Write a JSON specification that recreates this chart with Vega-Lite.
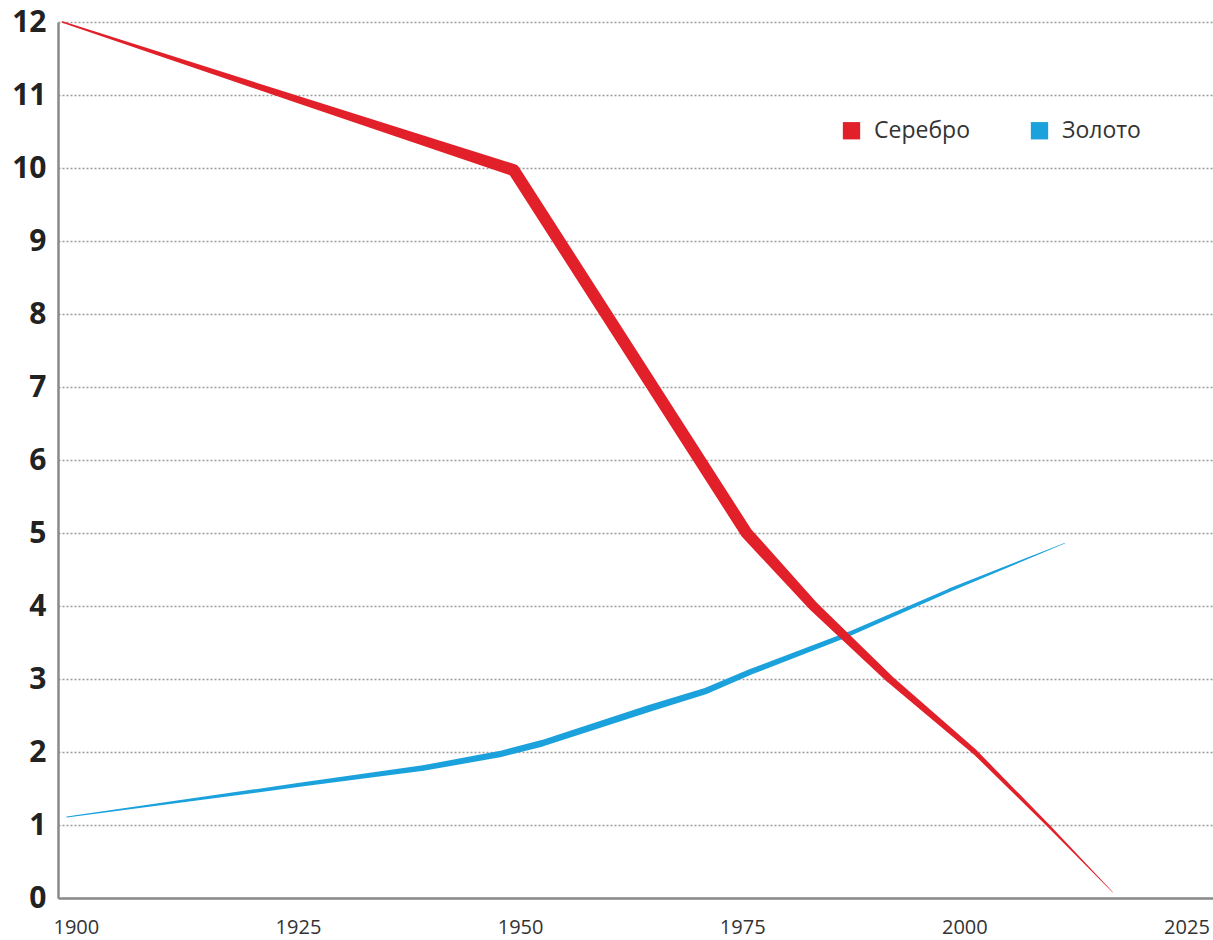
{
  "$schema": "https://vega.github.io/schema/vega-lite/v6.json",
  "width": 1155,
  "height": 876,
  "autosize": {"type": "none"},
  "padding": {"left": 58, "top": 22, "right": 0, "bottom": 42},
  "background": "white",
  "config": {
    "view": {"stroke": null},
    "font": "Open Sans"
  },
  "datasets": {
    "silver": [
      {"series": "Серебро", "year": 1900.5, "value": 12.0},
      {"series": "Серебро", "year": 1927.2, "value": 10.93},
      {"series": "Серебро", "year": 1951.3, "value": 9.97},
      {"series": "Серебро", "year": 1977.5, "value": 5.0},
      {"series": "Серебро", "year": 1985.0, "value": 4.0},
      {"series": "Серебро", "year": 1993.6, "value": 3.0},
      {"series": "Серебро", "year": 2003.2, "value": 2.0},
      {"series": "Серебро", "year": 2011.4, "value": 1.0},
      {"series": "Серебро", "year": 2018.7, "value": 0.08}
    ],
    "gold": [
      {"series": "Золото", "year": 1901.0, "value": 1.11},
      {"series": "Золото", "year": 1927.2, "value": 1.55},
      {"series": "Золото", "year": 1941.1, "value": 1.78},
      {"series": "Золото", "year": 1949.7, "value": 1.97},
      {"series": "Золото", "year": 1954.5, "value": 2.12},
      {"series": "Золото", "year": 1966.6, "value": 2.6},
      {"series": "Золото", "year": 1973.0, "value": 2.84},
      {"series": "Золото", "year": 1978.0, "value": 3.1},
      {"series": "Золото", "year": 1989.1, "value": 3.62},
      {"series": "Золото", "year": 2000.4, "value": 4.22},
      {"series": "Золото", "year": 2013.3, "value": 4.86}
    ]
  },
  "encoding": {
    "x": {
      "field": "year",
      "type": "quantitative",
      "scale": {"domain": [1900, 2030], "nice": false, "zero": false},
      "axis": {
        "title": null,
        "values": [1900, 1925, 1950, 1975, 2000, 2025],
        "format": "d",
        "grid": false,
        "ticks": false,
        "domain": true,
        "domainColor": "#8a8a8a",
        "domainWidth": 2.5,
        "labelFontSize": 20,
        "labelColor": "#333333",
        "labelAlign": "left",
        "labelOffset": -5,
        "labelPadding": 19,
        "labelFlush": false
      }
    },
    "y": {
      "field": "value",
      "type": "quantitative",
      "scale": {"domain": [0, 12], "nice": false},
      "axis": {
        "title": null,
        "values": [0, 1, 2, 3, 4, 5, 6, 7, 8, 9, 10, 11, 12],
        "grid": true,
        "gridColor": "#9a9a9a",
        "gridDash": [2, 2],
        "gridWidth": 1.5,
        "ticks": false,
        "domain": true,
        "domainColor": "#8a8a8a",
        "domainWidth": 2.5,
        "labelFontSize": 30,
        "labelFontWeight": "bold",
        "labelColor": "#222222",
        "labelPadding": 12
      }
    },
    "color": {
      "field": "series",
      "type": "nominal",
      "scale": {"domain": ["Серебро", "Золото"], "range": ["#e2202a", "#1ba1dc"]},
      "legend": {
        "title": null,
        "orient": "none",
        "legendX": 782,
        "legendY": 97,
        "direction": "horizontal",
        "symbolType": "square",
        "symbolSize": 300,
        "symbolStrokeWidth": 0,
        "labelFontSize": 23,
        "labelColor": "#333333",
        "labelOffset": 11,
        "columnPadding": 58,
        "encode": {
          "symbols": {
            "update": {
              "fill": {"scale": "color", "field": "value"},
              "opacity": {"value": 1},
              "strokeWidth": {"value": 0}
            }
          }
        }
      }
    }
  },
  "layer": [
    {
      "data": {"name": "gold"},
      "mark": {"type": "trail"},
      "encoding": {
        "size": {
          "field": "year",
          "type": "quantitative",
          "scale": {"domain": [1900, 1945, 1965, 2000, 2014], "range": [1, 6, 7, 3.5, 0.5], "clamp": true, "zero": false},
          "legend": null
        }
      }
    },
    {
      "data": {"name": "silver"},
      "mark": {"type": "trail"},
      "encoding": {
        "size": {
          "field": "year",
          "type": "quantitative",
          "scale": {"domain": [1900, 1951, 1977, 2003, 2019], "range": [1.5, 12, 12, 5, 0.5], "clamp": true, "zero": false},
          "legend": null
        }
      }
    }
  ],
  "resolve": {"scale": {"size": "independent"}}
}
